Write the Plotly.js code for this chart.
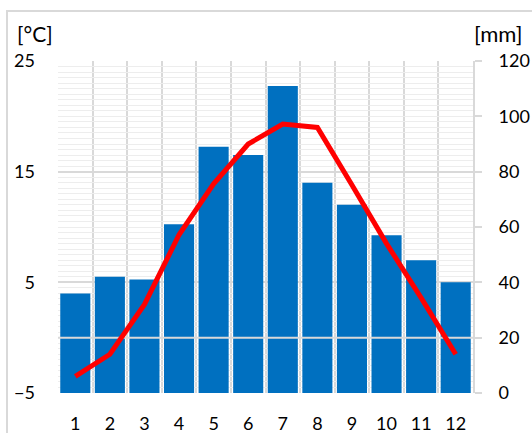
<!DOCTYPE html>
<html>
<head>
<meta charset="utf-8">
<script src="https://cdn.plot.ly/plotly-3.0.1.min.js"></script>
<style>html,body{margin:0;padding:0;background:#fff;}#chart{width:532px;height:433px;}</style>
</head>
<body>
<div id="chart"></div>
<script>
// Month numbers (categories)
var months = [1, 2, 3, 4, 5, 6, 7, 8, 9, 10, 11, 12];
// Precipitation [mm] (bars, right axis)
var precipitation = [36, 42, 41, 61, 89, 86, 111, 76, 68, 57, 48, 40];
// Temperature [°C] (line, left axis)
var temperature = [-3.5, -1.5, 3.0, 9.3, 13.9, 17.5, 19.3, 19.0, 13.8, 8.5, 3.6, -1.5];
// Reference line at 0 °C across the plot
var zeroLineX = [0.5, 12.5];
var zeroLineY = [0, 0];
// Axis labels
var tempUnit = "[°C]";
var precUnit = "[mm]";

var FONT = "Lato, 'Open Sans', sans-serif";
var GRID = "#d9d9d9";

var traces = [
  {
    type: "bar", x: months, y: precipitation,
    xaxis: "x", yaxis: "y",
    marker: {color: "#0070C0", line: {width: 0}},
    hoverinfo: "skip"
  },
  {
    type: "scatter", mode: "lines", x: zeroLineX, y: zeroLineY,
    xaxis: "x", yaxis: "y2",
    line: {color: GRID, width: 2},
    hoverinfo: "skip"
  },
  {
    type: "scatter", mode: "lines", x: months, y: temperature,
    xaxis: "x", yaxis: "y2",
    line: {color: "#FF0000", width: 5},
    hoverinfo: "skip"
  }
];

var layout = {
  width: 532, height: 433,
  margin: {l: 58, r: 59, t: 61, b: 40, pad: 0},
  paper_bgcolor: "#ffffff", plot_bgcolor: "#ffffff",
  showlegend: false,
  bargap: 0.13,
  font: {family: FONT, size: 17, color: "#000000"},
  xaxis: {
    type: "linear", range: [0.5, 12.5],
    tickmode: "array", tickvals: months, ticktext: months.map(String),
    showgrid: false, zeroline: false, showline: false,
    ticks: "", ticklabelstandoff: 18,
    tickfont: {family: FONT, size: 18, color: "#000"},
    minor: {tickmode: "linear", tick0: 0.5, dtick: 1, showgrid: true, gridcolor: GRID, gridwidth: 2, ticks: ""},
    fixedrange: true
  },
  yaxis: {
    range: [0, 120], side: "right",
    tickmode: "linear", tick0: 0, dtick: 20,
    showgrid: false, zeroline: false,
    showline: true, linecolor: GRID, linewidth: 2,
    ticks: "outside", ticklen: 7, tickwidth: 2, tickcolor: GRID,
    ticklabelstandoff: 13,
    tickfont: {family: FONT, size: 18, color: "#000"},
    fixedrange: true
  },
  yaxis2: {
    range: [-5, 25], side: "left", overlaying: "y",
    tickmode: "linear", tick0: -5, dtick: 10,
    showgrid: true, gridcolor: GRID, gridwidth: 2,
    zeroline: false, showline: false,
    ticks: "", ticklabelstandoff: 22,
    tickfont: {family: FONT, size: 18, color: "#000"},
    minor: {tickmode: "linear", tick0: -5, dtick: 0.5, showgrid: true, gridcolor: "#ededed", gridwidth: 1, ticks: ""},
    fixedrange: true
  },
  annotations: [
    {text: tempUnit, xref: "paper", yref: "paper", x: -0.0554, y: 1.084, xanchor: "center", yanchor: "middle", showarrow: false, font: {family: FONT, size: 21, color: "#000"}},
    {text: precUnit, xref: "paper", yref: "paper", x: 1.0614, y: 1.083, xanchor: "center", yanchor: "middle", showarrow: false, font: {family: FONT, size: 22, color: "#000"}}
  ],
  shapes: [
    {type: "rect", xref: "paper", yref: "paper", x0: -0.1229, y0: -0.3, x1: 1.3, y1: 1.1506, line: {color: GRID, width: 2}, fillcolor: "rgba(0,0,0,0)", layer: "below"}
  ]
};

Plotly.newPlot("chart", traces, layout, {staticPlot: true, displayModeBar: false});
</script>
</body>
</html>
